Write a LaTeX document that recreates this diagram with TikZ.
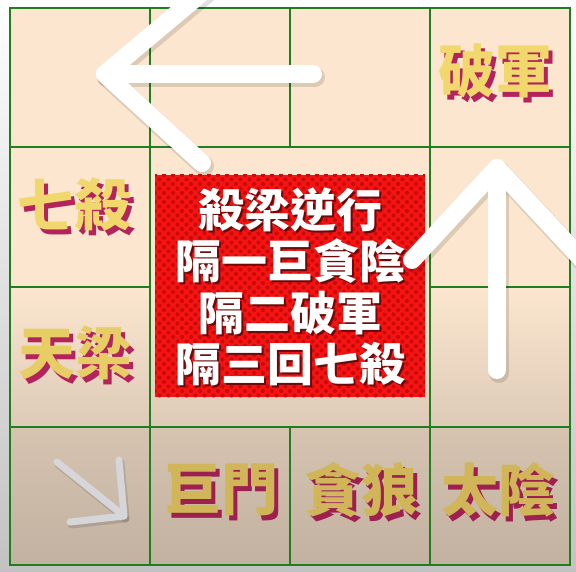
\documentclass[tikz,border=0pt]{standalone}
\usepackage{fontspec}
\newfontfamily\cjk{Noto Sans CJK TC}
\definecolor{peach}{HTML}{FCE6CF}
\definecolor{tanA}{HTML}{DDCAB7}
\definecolor{tanB}{HTML}{D6C4B1}
\definecolor{tanC}{HTML}{C3B1A1}
\definecolor{bggray}{HTML}{C2C2C2}
\definecolor{gridgreen}{HTML}{1F7F1F}
\definecolor{boxred}{HTML}{F51414}
\definecolor{dotred}{HTML}{CC0A0A}
\definecolor{goldA}{HTML}{F0D86C}
\definecolor{goldB}{HTML}{E6CE64}
\definecolor{goldC}{HTML}{D0B658}
\definecolor{crimA}{HTML}{B3245C}
\definecolor{crimC}{HTML}{9E2050}
\definecolor{txtshadow}{HTML}{6A0A0A}
\definecolor{arrowgray}{HTML}{D6D6DA}
\newcommand{\shtext}[5]{\makebox[0pt][l]{\hspace*{#2}\raisebox{-#3}{\textcolor{#1}{#5}}}\textcolor{#4}{#5}}
\begin{document}
\begin{tikzpicture}[x=1pt,y=-1pt,
  gridline/.style={draw=gridgreen, line width=2.5pt, line cap=rect},
  lbl/.style={font=\cjk\bfseries\fontsize{57}{57}\selectfont, inner sep=0pt},
  boxtxt/.style={font=\cjk\bfseries\fontsize{46}{46}\selectfont, inner sep=0pt},
  bigarrow/.style={draw=white, line width=18pt, line cap=round, line join=round},
  bigshadow/.style={draw=black, opacity=0.12, line width=20pt, line cap=round, line join=round},
  smallarrow/.style={draw=arrowgray, line width=7pt, line cap=round, line join=round},
  smallshadow/.style={draw=black, opacity=0.12, line width=8pt, line cap=round, line join=round}
  ]
\useasboundingbox (0,0) rectangle (576,572);
\clip (0,0) rectangle (576,572);
% page background
\shade[top color=white, bottom color=bggray] (0,0) rectangle (576,572);
% cell fills
\fill[peach] (10,8) rectangle (570,287);
\shade[top color=peach, bottom color=tanA] (10,287) rectangle (570,427);
\shade[top color=tanB, bottom color=tanC] (10,427) rectangle (570,565);
% grid
\draw[gridline] (10,8) -- (570,8);
\draw[gridline] (10,147) -- (570,147);
\draw[gridline] (10,287) -- (150,287);
\draw[gridline] (430,287) -- (570,287);
\draw[gridline] (10,427) -- (570,427);
\draw[gridline] (10,565) -- (570,565);
\draw[gridline] (10,8) -- (10,565);
\draw[gridline] (150,8) -- (150,565);
\draw[gridline] (290,8) -- (290,147);
\draw[gridline] (290,427) -- (290,565);
\draw[gridline] (430,8) -- (430,565);
\draw[gridline] (570,8) -- (570,565);
% red box with halftone dots
\fill[boxred] (155,175) rectangle (425,397);
\begin{scope}
  \clip (155,175) rectangle (425,397);
  \foreach \i in {0,...,30} {
    \foreach \j in {0,...,25} {
      \fill[dotred] ({155+\i*9},{175+\j*9}) circle (2.1pt);
      \fill[dotred] ({159.5+\i*9},{179.5+\j*9}) circle (2.1pt);
    }
  }
\end{scope}
% box text
\foreach \t/\yy [count=\k] in {殺梁逆行/211, 隔一巨貪陰/262, 隔二破軍/314, 隔三回七殺/365} {
  \node[boxtxt] (bt\k) at (290,\yy) {\shtext{txtshadow}{2.5pt}{2.5pt}{white}{\t}};
}
% labels
\node[lbl] (pojun) at (495,73) {\shtext{crimA}{4pt}{5pt}{goldA}{破軍}};
\node[lbl] (qisha) at (74,207) {\shtext{crimA}{4pt}{5pt}{goldA}{七殺}};
\node[lbl] (tianliang) at (76,355) {\shtext{crimA}{4pt}{5pt}{goldB}{天梁}};
\node[lbl] (jumen) at (221,492) {\shtext{crimC}{4pt}{5pt}{goldC}{巨門}};
\node[lbl] (tanlang) at (361,492) {\shtext{crimC}{4pt}{5pt}{goldC}{貪狼}};
\node[lbl] (taiyin) at (498,492) {\shtext{crimC}{4pt}{5pt}{goldC}{太陰}};
% left arrow
\coordinate (lt) at (105,74);
\coordinate (ls) at (313,74);
\coordinate (lu) at (211,-15);
\coordinate (ld) at (202,163);
\draw[bigshadow] ([shift={(2,3)}]ls) -- ([shift={(2,3)}]lt);
\draw[bigshadow] ([shift={(2,3)}]lu) -- ([shift={(2,3)}]lt) -- ([shift={(2,3)}]ld);
\draw[bigarrow] (ls) -- (lt);
\draw[bigarrow] (lu) -- (lt) -- (ld);
% up arrow
\coordinate (ut) at (497,168);
\coordinate (us) at (497,370);
\coordinate (ul) at (412,260);
\coordinate (ur) at (590,268);
\draw[bigshadow] ([shift={(2,3)}]us) -- ([shift={(2,3)}]ut);
\draw[bigshadow] ([shift={(2,3)}]ul) -- ([shift={(2,3)}]ut) -- ([shift={(2,3)}]ur);
\draw[bigarrow] (us) -- (ut);
\draw[bigarrow] (ul) -- (ut) -- (ur);
% small gray arrow
\coordinate (gs) at (57,462);
\coordinate (gt) at (124,516);
\coordinate (gu) at (119,460);
\coordinate (gl) at (70,522);
\draw[smallshadow] ([shift={(1.5,2.5)}]gs) -- ([shift={(1.5,2.5)}]gt);
\draw[smallshadow] ([shift={(1.5,2.5)}]gu) -- ([shift={(1.5,2.5)}]gt) -- ([shift={(1.5,2.5)}]gl);
\draw[smallarrow] (gs) -- (gt);
\draw[smallarrow] (gu) -- (gt) -- (gl);
\end{tikzpicture}
\end{document}
